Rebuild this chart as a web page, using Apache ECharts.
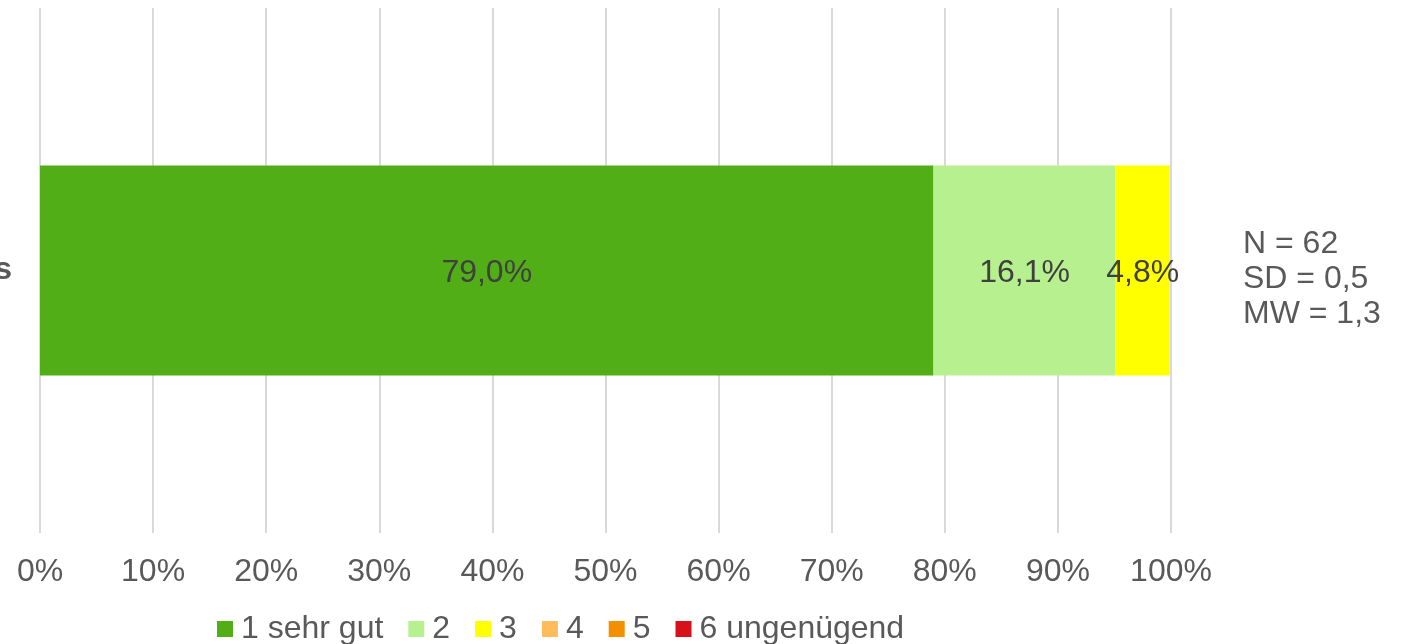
<!DOCTYPE html>
<html>
<head>
<meta charset="utf-8">
<script src="https://cdn.jsdelivr.net/npm/echarts@6/dist/echarts.min.js"></script>
<style>
html,body{margin:0;padding:0;background:#fff;}
#chart{width:1404px;height:644px;}
</style>
</head>
<body>
<div id="chart"></div>
<script>
const categories = ['s'];
const seriesNames = ['1 sehr gut', '2', '3', '4', '5', '6 ungenügend'];
const seriesValues = [[79.0], [16.1], [4.8], [0], [0], [0]];
const seriesColors = ['#52AE16', '#B7F08F', '#FFFF00', '#FFBB5C', '#F29000', '#D7101A'];
const xTicks = [0, 10, 20, 30, 40, 50, 60, 70, 80, 90, 100];
const statsLines = ['N = 62', 'SD = 0,5', 'MW = 1,3'];

const FONT = '"Liberation Sans", Arial, sans-serif';
const FS = 32;
const chart = echarts.init(document.getElementById('chart'));

const series = seriesNames.map((name, i) => ({
  name: name,
  type: 'bar',
  stack: 'total',
  barWidth: '40%',
  data: seriesValues[i],
  itemStyle: { color: seriesColors[i] },
  label: {
    show: seriesValues[i].some(v => v > 0),
    position: 'inside',
    offset: [0, 3],
    color: '#404040',
    fontFamily: FONT,
    fontSize: FS,
    formatter: p => p.value > 0 ? p.value.toFixed(1).replace('.', ',') + '%' : ''
  }
}));

chart.setOption({
  animation: false,
  backgroundColor: '#ffffff',
  grid: { left: 40, right: 233, top: 8, bottom: 111, containLabel: false, outerBoundsMode: 'none' },
  xAxis: {
    type: 'value',
    min: xTicks[0],
    max: xTicks[xTicks.length - 1],
    interval: 10,
    axisLine: { show: false },
    axisTick: { show: false },
    splitLine: { lineStyle: { color: '#D9D9D9', width: 2 } },
    axisLabel: {
      color: '#595959',
      fontFamily: FONT,
      fontSize: FS,
      margin: 23,
      formatter: v => v + '%'
    }
  },
  yAxis: {
    type: 'category',
    data: categories,
    axisLine: { show: false },
    axisTick: { show: false },
    axisLabel: {
      color: '#595959',
      fontFamily: FONT,
      fontSize: FS,
      fontWeight: 'bold',
      margin: 28
    }
  },
  legend: {
    data: seriesNames,
    left: 217,
    top: 613,
    padding: 0,
    itemWidth: 16,
    itemHeight: 16,
    itemGap: 25,
    icon: 'rect',
    textStyle: { color: '#595959', fontFamily: FONT, fontSize: FS, padding: [0, 0, 0, 3] }
  },
  graphic: [{
    type: 'text',
    left: 1243,
    top: 227,
    style: {
      text: statsLines.join('\n'),
      fill: '#595959',
      font: FS + 'px ' + FONT,
      lineHeight: 35
    }
  }],
  series: series
});
</script>
</body>
</html>
